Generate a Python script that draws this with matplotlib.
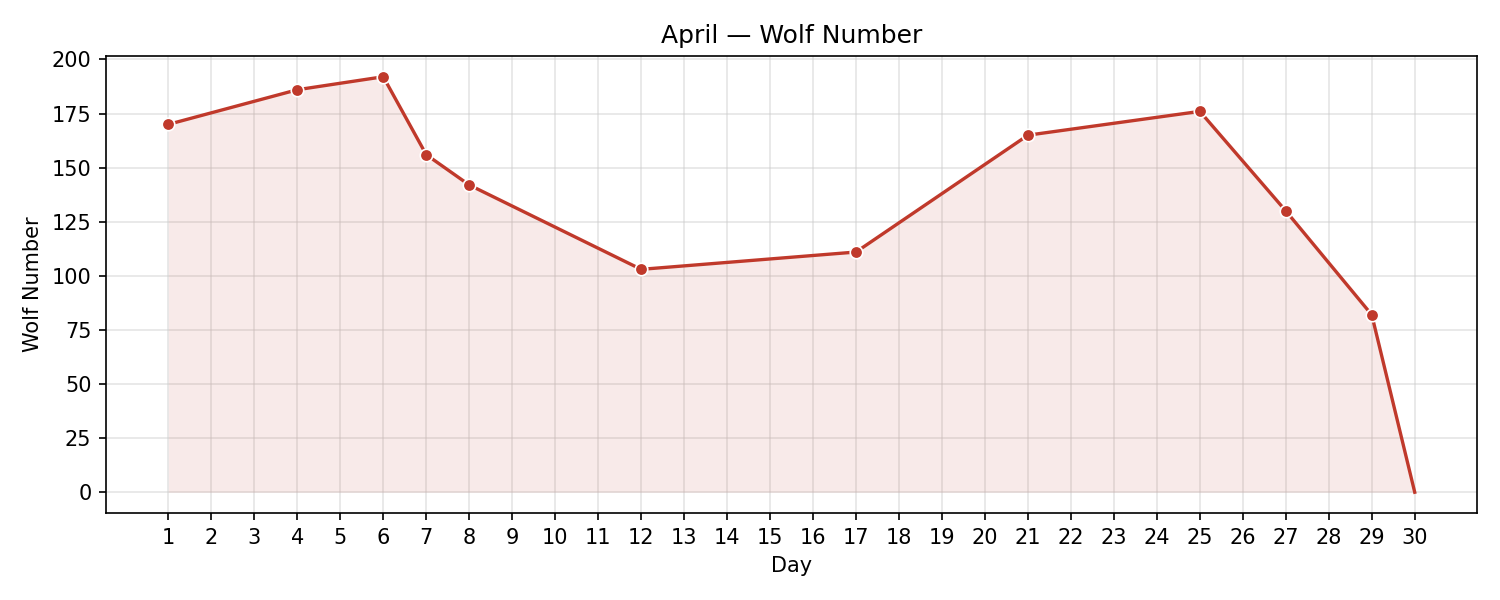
import numpy as np
import matplotlib
matplotlib.use('Agg')
import matplotlib.pyplot as plt

days = np.arange(1, 31)
obs_days = [1, 4, 6, 7, 8, 12, 17, 21, 25, 27, 29]
obs_vals = [170, 186, 192, 156, 142, 103, 111, 165, 176, 130, 82]
end_day = 30
end_val = 0

line_x = obs_days + [end_day]
line_y = obs_vals + [end_val]
color = '#c0392b'

fig, ax = plt.subplots(figsize=(10, 4), dpi=150)
fig.subplots_adjust(left=0.0707, right=0.9847, top=0.9067, bottom=0.145)
ax.fill_between(line_x, line_y, 0, color=color, alpha=0.1, linewidth=0)
ax.plot(line_x, line_y, '-', color=color, linewidth=1.6)
ax.plot(obs_days, obs_vals, 'o', color=color, markersize=6,
        markeredgecolor='white', markeredgewidth=0.8)

ax.set_xticks(days)
ax.set_yticks(np.arange(0, 201, 25))
ax.grid(True, color='#cccccc', alpha=0.5, linewidth=0.8)
ax.set_axisbelow(True)

ax.set_title('April \u2014 Wolf Number', fontsize=12)
ax.set_xlabel('Day')
ax.set_ylabel('Wolf Number')

plt.savefig('out.png', dpi=150)
